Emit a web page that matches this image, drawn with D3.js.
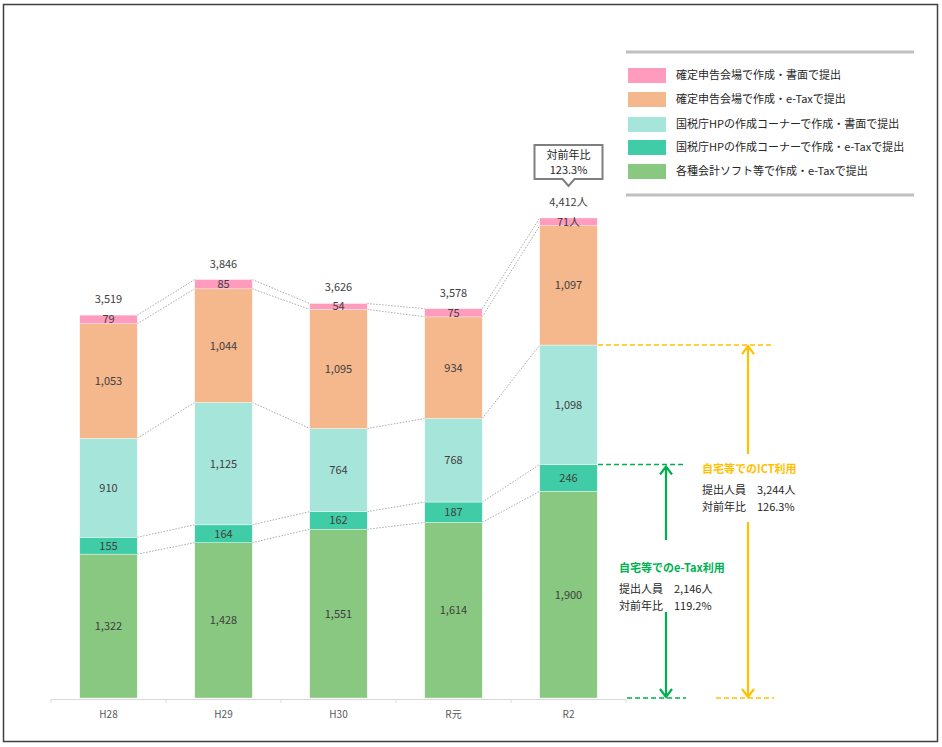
<!DOCTYPE html>
<html><head><meta charset="utf-8">
<script src="https://cdn.jsdelivr.net/npm/d3@7"></script>
<style>
body{margin:0;background:#fff;}
svg{font-family:"Noto Sans CJK JP","Noto Sans",sans-serif;}
</style></head>
<body><svg id="c" width="942" height="747"></svg>
<script>
const categories = ["H28","H29","H30","R元","R2"];
const seriesNames = [
  "各種会計ソフト等で作成・e-Taxで提出",
  "国税庁HPの作成コーナーで作成・e-Taxで提出",
  "国税庁HPの作成コーナーで作成・書面で提出",
  "確定申告会場で作成・e-Taxで提出",
  "確定申告会場で作成・書面で提出"
];
const softEtax   = [1322, 1428, 1551, 1614, 1900];
const hpEtax     = [155, 164, 162, 187, 246];
const hpPaper    = [910, 1125, 764, 768, 1098];
const venueEtax  = [1053, 1044, 1095, 934, 1097];
const venuePaper = [79, 85, 54, 75, 71];
const totals     = [3519, 3846, 3626, 3578, 4412];
const colors = ["#88C880","#40CCA6","#A6E5DA","#F5B78C","#FF9BBD"];

const ictTotal = "3,244人", ictRatio = "126.3%";
const etaxTotal = "2,146人", etaxRatio = "119.2%";
const yoyTotal = "123.3%";

const svg = d3.select("#c");
// outer frame
svg.append("rect").attr("x",3.5).attr("y",4.5).attr("width",934).attr("height",737)
  .attr("fill","#fff").attr("stroke","#404040").attr("stroke-width",1.5);

const x = d3.scaleBand().domain(categories).range([51,626]).paddingInner(0.5).paddingOuter(0.25);
const y = d3.scaleLinear().domain([0,5000]).range([698,154]);

const seriesVals = [softEtax,hpEtax,hpPaper,venueEtax,venuePaper];
const table = categories.map((c,i)=>{const o={cat:c}; seriesNames.forEach((s,j)=>o[s]=seriesVals[j][i]); return o;});
const stacked = d3.stack().keys(seriesNames)(table);

// connectors
const conn = svg.append("g");
stacked.forEach(layer=>{
  for(let i=0;i<categories.length-1;i++){
    conn.append("line")
      .attr("x1",x(categories[i])+x.bandwidth()).attr("y1",y(layer[i][1]))
      .attr("x2",x(categories[i+1])).attr("y2",y(layer[i+1][1]))
      .attr("stroke","#a0a0a0").attr("stroke-width",0.9).attr("stroke-dasharray","1.5,1.5");
  }
});

// bars
const g = svg.append("g");
stacked.forEach((layer,j)=>{
  g.selectAll(null).data(layer).enter().append("rect")
    .attr("x",(d,i)=>x(categories[i])).attr("width",x.bandwidth())
    .attr("y",d=>y(d[1])).attr("height",d=>y(d[0])-y(d[1]))
    .attr("fill",colors[j]).attr("stroke","#ffffff").attr("stroke-width",0.6).attr("stroke-opacity",0.6);
  g.selectAll(null).data(layer).enter().append("text")
    .attr("x",(d,i)=>x(categories[i])+x.bandwidth()/2)
    .attr("y",d=>(y(d[0])+y(d[1]))/2+4)
    .attr("text-anchor","middle").attr("font-size",11).attr("fill","#404040")
    .text((d,i)=>d3.format(",")(seriesVals[j][i]) + (i===categories.length-1 && j===4 ? "人":""));
});
// totals
svg.selectAll(null).data(totals).enter().append("text")
  .attr("x",(d,i)=>x(categories[i])+x.bandwidth()/2)
  .attr("y",d=>y(d)-12)
  .attr("text-anchor","middle").attr("font-size",11).attr("fill","#404040")
  .text((d,i)=>d3.format(",")(d)+(i===categories.length-1?"人":""));

// x axis
const ax = svg.append("g").attr("transform","translate(0,699)")
  .call(d3.axisBottom(x).tickSize(0).tickPadding(12));
ax.select(".domain").attr("stroke","#d9d9d9");
ax.selectAll("text").attr("font-size",10).attr("fill","#595959").attr("font-family","Noto Sans CJK JP, sans-serif");
// band ticks
const bounds = categories.map(c=>x(c)-x.step()*x.paddingInner()/2*1).concat([626]);
ax.selectAll(".btick").data(categories.map((c,i)=>51+i*x.step()).concat([626])).enter().append("line")
  .attr("x1",d=>d).attr("x2",d=>d).attr("y1",0).attr("y2",4).attr("stroke","#d9d9d9");

// legend
const lg = svg.append("g");
lg.append("line").attr("x1",626).attr("x2",914).attr("y1",52).attr("y2",52).attr("stroke","#bfbfbf").attr("stroke-width",3);
lg.append("line").attr("x1",626).attr("x2",914).attr("y1",195).attr("y2",195).attr("stroke","#bfbfbf").attr("stroke-width",3);
const legOrder = [4,3,2,1,0];
const legY = [75,99,124,147,171];
legOrder.forEach((j,k)=>{
  lg.append("rect").attr("x",628).attr("y",legY[k]-7).attr("width",38).attr("height",15).attr("fill",colors[j]);
  lg.append("text").attr("x",676).attr("y",legY[k]+4).attr("font-size",11).attr("fill","#262626").text(seriesNames[j]);
});

// callout
const cx = x("R2")+x.bandwidth()/2;
const cal = svg.append("g");
cal.append("path")
  .attr("d",`M${cx-34},145 H${cx+34} V179 H${cx+6} L${cx},186 L${cx-6},179 H${cx-34} Z`)
  .attr("fill","#fff").attr("stroke","#7f7f7f").attr("stroke-width",2);
cal.append("text").attr("x",cx).attr("y",159).attr("text-anchor","middle").attr("font-size",11).attr("fill","#262626").text("対前年比");
cal.append("text").attr("x",cx).attr("y",174).attr("text-anchor","middle").attr("font-size",11).attr("fill","#262626").text(yoyTotal);

// annotations
const orange = "#FFC000", green = "#00B050";
const ictTop = y(softEtax[4]+hpEtax[4]+hpPaper[4]);
const etaxTop = y(softEtax[4]+hpEtax[4]);
const base = y(0);
const ann = svg.append("g");
function dash(x1,x2,yy,c){ann.append("line").attr("x1",x1).attr("x2",x2).attr("y1",yy).attr("y2",yy).attr("stroke",c).attr("stroke-width",1.6).attr("stroke-dasharray","5,3");}
function arrowSeg(xx,y1,y2,c,head){
  ann.append("line").attr("x1",xx).attr("x2",xx).attr("y1",y1).attr("y2",y2).attr("stroke",c).attr("stroke-width",2.2);
  if(head){const hy=head.y, dir=head.dir;
    ann.append("path").attr("d",`M${xx-6},${hy+dir*8} L${xx},${hy} L${xx+6},${hy+dir*8}`).attr("fill","none").attr("stroke",c).attr("stroke-width",2.2);}
}
dash(598,774,ictTop,orange);
dash(716,774,base,orange);
arrowSeg(748,ictTop+1,454,orange,{y:ictTop+1,dir:1});
arrowSeg(748,522,base-1,orange,{y:base-1,dir:-1});
dash(598,686,etaxTop,green);
dash(627,686,base,green);
arrowSeg(666,etaxTop+2,540,green,{y:etaxTop+2,dir:1});
arrowSeg(666,612,base-1,green,{y:base-1,dir:-1});

ann.append("text").attr("x",702).attr("y",473).attr("font-size",11).attr("font-weight","bold").attr("fill",orange).text("自宅等でのICT利用");
ann.append("text").attr("x",702).attr("y",494).attr("font-size",11).attr("fill","#262626").text("提出人員　"+ictTotal);
ann.append("text").attr("x",702).attr("y",511).attr("font-size",11).attr("fill","#262626").text("対前年比　"+ictRatio);
ann.append("text").attr("x",619).attr("y",572).attr("font-size",11).attr("font-weight","bold").attr("fill",green).text("自宅等でのe-Tax利用");
ann.append("text").attr("x",619).attr("y",593).attr("font-size",11).attr("fill","#262626").text("提出人員　"+etaxTotal);
ann.append("text").attr("x",619).attr("y",610).attr("font-size",11).attr("fill","#262626").text("対前年比　"+etaxRatio);
</script></body></html>
